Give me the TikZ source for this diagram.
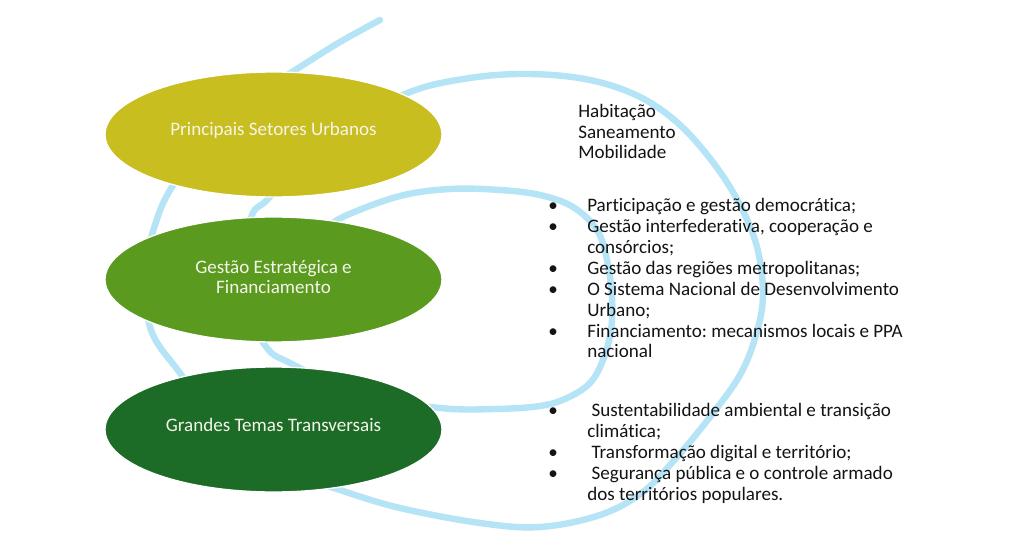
\documentclass[tikz,border=0pt]{standalone}
\usepackage{fontspec}
\setmainfont{Carlito}[Ligatures=NoCommon]
\frenchspacing
\usetikzlibrary{shapes.geometric, positioning}

\definecolor{setorcol}{RGB}{200,190,31}
\definecolor{gestaocol}{RGB}{90,154,31}
\definecolor{temacol}{RGB}{28,107,39}
\definecolor{spiralblue}{RGB}{181,228,247}
\definecolor{ovaltxt}{RGB}{245,245,232}
\definecolor{listcol}{RGB}{20,20,20}

\newcommand{\bul}{\llap{\makebox[29.25pt][l]{\textbullet}}}

\tikzset{
  oval/.style={ellipse, minimum width=252.75pt, minimum height=93.75pt, inner sep=0pt, draw=white, line width=1pt},
  ovaltext/.style={text=ovaltxt, align=center, font=\fontsize{14.3}{15.5}\selectfont},
  listtext/.style={anchor=base west, align=left, inner sep=0pt, text=listcol, font=\fontsize{14.3}{15.65}\selectfont},
  spiral/.style={draw=spiralblue, line width=4.8pt, line cap=round}
}

\begin{document}
\begin{tikzpicture}[x=0.75pt, y=-0.75pt]
  \useasboundingbox[fill=white] (0,0) rectangle (1015,549);

  % spiral behind the ovals
  \draw[spiral] plot[smooth, tension=0.6] coordinates {
    (380,20) (340,42) (300,67) (250,100) (210,140) (172,187) (155,225) (147,265)
    (150,327) (180,373) (230,435) (290,472) (340,490) (400,508) (480,523) (540,527)
    (600,515) (643,492) (677,457) (710,417) (740,375) (756,335) (763,295) (757,247)
    (740,205) (715,165) (680,125) (640,97) (590,80) (530,74) (470,78) (410,92)
    (350,125) (300,165) (267,200) (252,215) (243,260) (248,310) (267,348) (290,363)
    (360,395) (440,408) (495,409) (540,406) (567,398) (590,383) (603,360) (611,330)
    (612,297) (607,260) (597,230) (573,207) (540,195) (500,190) (450,189) (400,196)
    (345,216) (320,232)};

  % ovals
  \node[oval, fill=setorcol] (setores) at (273.5,134.5) {};
  \node[ovaltext] (setorestxt) at (273.5,130) {Principais Setores Urbanos};

  \node[oval, fill=gestaocol] (gestao) at (273.5,279.5) {};
  \node[ovaltext] (gestaotxt) at (273.5,277) {Gestão Estratégica e\\Financiamento};

  \node[oval, fill=temacol] (temas) at (273.5,429.5) {};
  \node[ovaltext] (temastxt) at (273.5,425) {Grandes Temas Transversais};

  % lists on the right (anchored at the last baseline)
  \node[listtext] (setoreslist) at (578,159) {Habitação\\Saneamento\\Mobilidade};

  \node[listtext] (gestaolist) at (587,358) {%
    \bul Participação e gestão democrática;\\
    \bul Gestão interfederativa, cooperação e\\
    consórcios;\\
    \bul Gestão das regiões metropolitanas;\\
    \bul O Sistema Nacional de Desenvolvimento\\
    Urbano;\\
    \bul Financiamento: mecanismos locais e PPA\\
    nacional};

  \node[listtext] (temaslist) at (587,500) {%
    \bul{} Sustentabilidade ambiental e transição\\
    climática;\\
    \bul{} Transformação digital e território;\\
    \bul{} Segurança pública e o controle armado\\
    dos territórios populares.};
\end{tikzpicture}
\end{document}
